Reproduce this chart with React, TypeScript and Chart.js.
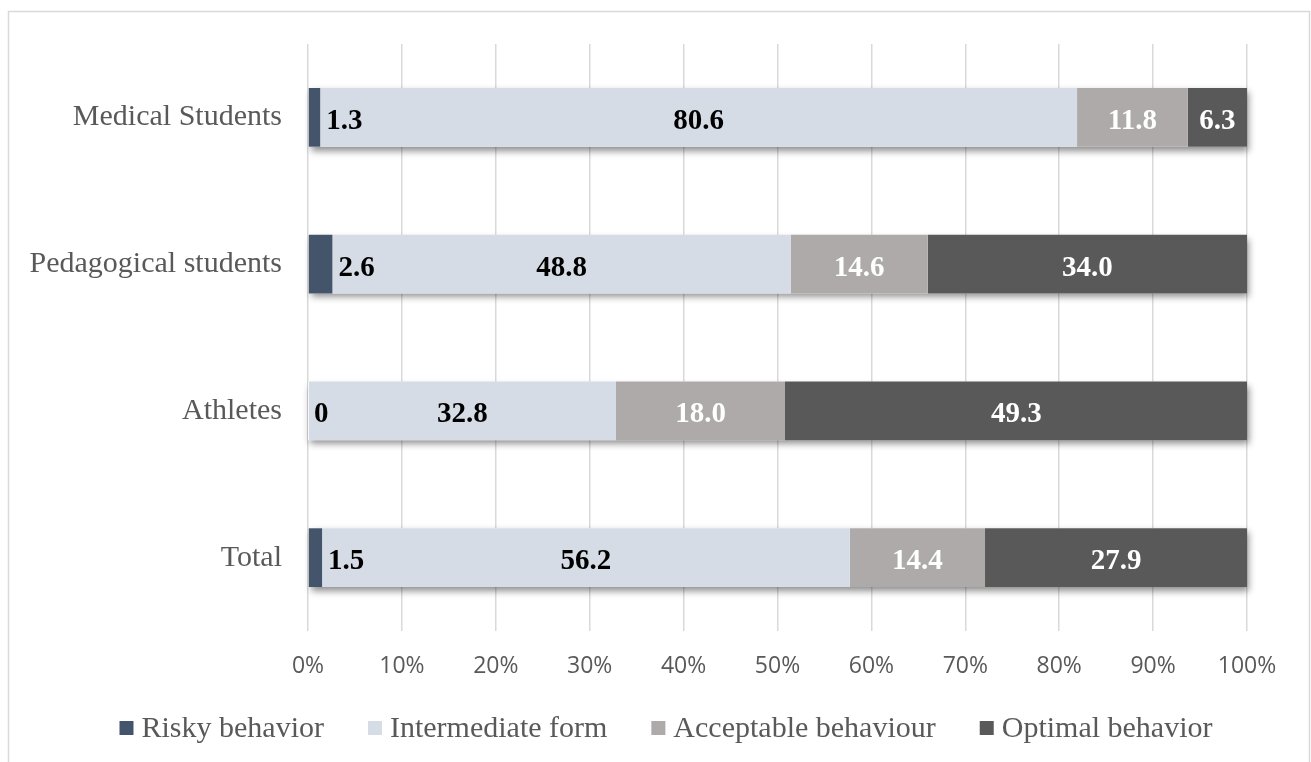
import React, { useEffect, useRef } from "react";
import { Chart, registerables } from "chart.js";

Chart.register(...registerables);

const categories = ["Medical Students", "Pedagogical students", "Athletes", "Total"];
const seriesNames = ["Risky behavior", "Intermediate form", "Acceptable behaviour", "Optimal behavior"];
const risky = [1.3, 2.6, 0, 1.5];
const intermediate = [80.6, 48.8, 32.8, 56.2];
const acceptable = [11.8, 14.6, 18.0, 14.4];
const optimal = [6.3, 34.0, 49.3, 27.9];
const xTickStep = 10;
const xMax = 100;

const seriesColors = ["#44546A", "#D6DCE5", "#AEAAAA", "#595959"];
const labelColors = ["#000000", "#000000", "#FFFFFF", "#FFFFFF"];
const SERIF = '"Liberation Serif", "Times New Roman", serif';
const SANS = '"Open Sans", "Liberation Sans", sans-serif';
const TEXT_GREY = "#595959";

const borderPlugin = {
  id: "frameBorder",
  beforeDraw(chart: any) {
    const ctx = chart.ctx;
    ctx.save();
    ctx.strokeStyle = "#D9D9D9";
    ctx.lineWidth = 1.5;
    ctx.strokeRect(8.5, 11.5, 1301, 800);
    ctx.restore();
  },
};

const shadowPlugin = {
  id: "barShadow",
  beforeDatasetsDraw(chart: any) {
    const ctx = chart.ctx;
    const n = chart.data.labels.length;
    for (let i = 0; i < n; i++) {
      let left = Infinity, right = -Infinity, top = 0, h = 0;
      chart.data.datasets.forEach((_: any, d: number) => {
        const el = chart.getDatasetMeta(d).data[i];
        if (!el) return;
        const p = el.getProps(["x", "y", "base", "height"], true);
        left = Math.min(left, p.base, p.x);
        right = Math.max(right, p.base, p.x);
        top = p.y - p.height / 2;
        h = p.height;
      });
      right = Math.min(right, chart.chartArea.right);
      ctx.save();
      ctx.shadowColor = "rgba(0,0,0,0.45)";
      ctx.shadowBlur = 7;
      ctx.shadowOffsetX = 2;
      ctx.shadowOffsetY = 4;
      ctx.fillStyle = "#ffffff";
      ctx.fillRect(left, top, right - left, h);
      ctx.restore();
    }
  },
};

const valueLabelPlugin = {
  id: "valueLabels",
  afterDatasetsDraw(chart: any) {
    const ctx = chart.ctx;
    ctx.save();
    ctx.font = `bold 29px ${SERIF}`;
    ctx.textBaseline = "alphabetic";
    chart.data.datasets.forEach((ds: any, d: number) => {
      const meta = chart.getDatasetMeta(d);
      meta.data.forEach((el: any, i: number) => {
        const v = ds.data[i];
        const txt = v === 0 ? "0" : v.toFixed(1);
        const p = el.getProps(["x", "y", "base"], true);
        ctx.fillStyle = labelColors[d];
        const yy = p.y + 11.5;
        if (d === 0) {
          ctx.textAlign = "left";
          ctx.fillText(txt, Math.max(p.x, p.base) + 6, yy);
        } else {
          ctx.textAlign = "center";
          ctx.fillText(txt, (p.x + p.base) / 2, yy);
        }
      });
    });
    ctx.restore();
  },
};

const legendPlugin = {
  id: "customLegend",
  afterDraw(chart: any) {
    const ctx = chart.ctx;
    ctx.save();
    ctx.font = `30px ${SERIF}`;
    const box = 14, gap = 8, spacing = 44;
    const items = chart.data.datasets.map((ds: any) => ({
      label: ds.label,
      color: ds.backgroundColor,
      w: ctx.measureText(ds.label).width,
    }));
    const total =
      items.reduce((s: number, it: any) => s + box + gap + it.w, 0) + spacing * (items.length - 1);
    let x = 666 - total / 2;
    const cy = 728;
    items.forEach((it: any) => {
      ctx.fillStyle = it.color;
      ctx.fillRect(x, cy - box / 2, box, box);
      ctx.fillStyle = TEXT_GREY;
      ctx.textAlign = "left";
      ctx.textBaseline = "alphabetic";
      ctx.fillText(it.label, x + box + gap, cy + 9);
      x += box + gap + it.w + spacing;
    });
    ctx.restore();
  },
};

export default function App() {
  const ref = useRef<HTMLCanvasElement | null>(null);

  useEffect(() => {
    if (!ref.current) return;
    const seriesData = [risky, intermediate, acceptable, optimal];
    const chart = new Chart(ref.current, {
      type: "bar",
      data: {
        labels: categories,
        datasets: seriesData.map((arr, k) => ({
          label: seriesNames[k],
          data: arr,
          backgroundColor: seriesColors[k],
          borderWidth: 0,
          categoryPercentage: 1,
          barPercentage: 0.4,
        })),
      },
      options: {
        indexAxis: "y",
        animation: false,
        responsive: false,
        maintainAspectRatio: false,
        devicePixelRatio: 1,
        layout: { padding: { top: 43, right: 64, left: 0, bottom: 0 } },
        plugins: {
          legend: { display: false },
          tooltip: { enabled: false },
        },
        scales: {
          x: {
            stacked: true,
            min: 0,
            max: xMax,
            grid: { color: "#D9D9D9", lineWidth: 1.5, drawTicks: false },
            border: { display: false },
            ticks: {
              stepSize: xTickStep,
              callback: (v: any) => `${v}%`,
              font: { family: SANS, size: 23 },
              color: TEXT_GREY,
              padding: 22,
            },
            afterFit: (s: any) => {
              s.height = 131;
            },
          },
          y: {
            stacked: true,
            grid: { display: false, drawTicks: false },
            border: { display: false },
            ticks: {
              font: { family: SERIF, size: 30 },
              color: TEXT_GREY,
              padding: 26,
            },
            afterFit: (s: any) => {
              s.width = 308;
            },
          },
        },
      },
      plugins: [borderPlugin, shadowPlugin, valueLabelPlugin, legendPlugin],
    } as any);
    return () => chart.destroy();
  }, []);

  return (
    <div style={{ position: "absolute", left: 0, top: 0, width: 1311, height: 762, background: "#fff" }}>
      <canvas ref={ref} width={1311} height={762} style={{ width: 1311, height: 762, display: "block" }} />
    </div>
  );
}
